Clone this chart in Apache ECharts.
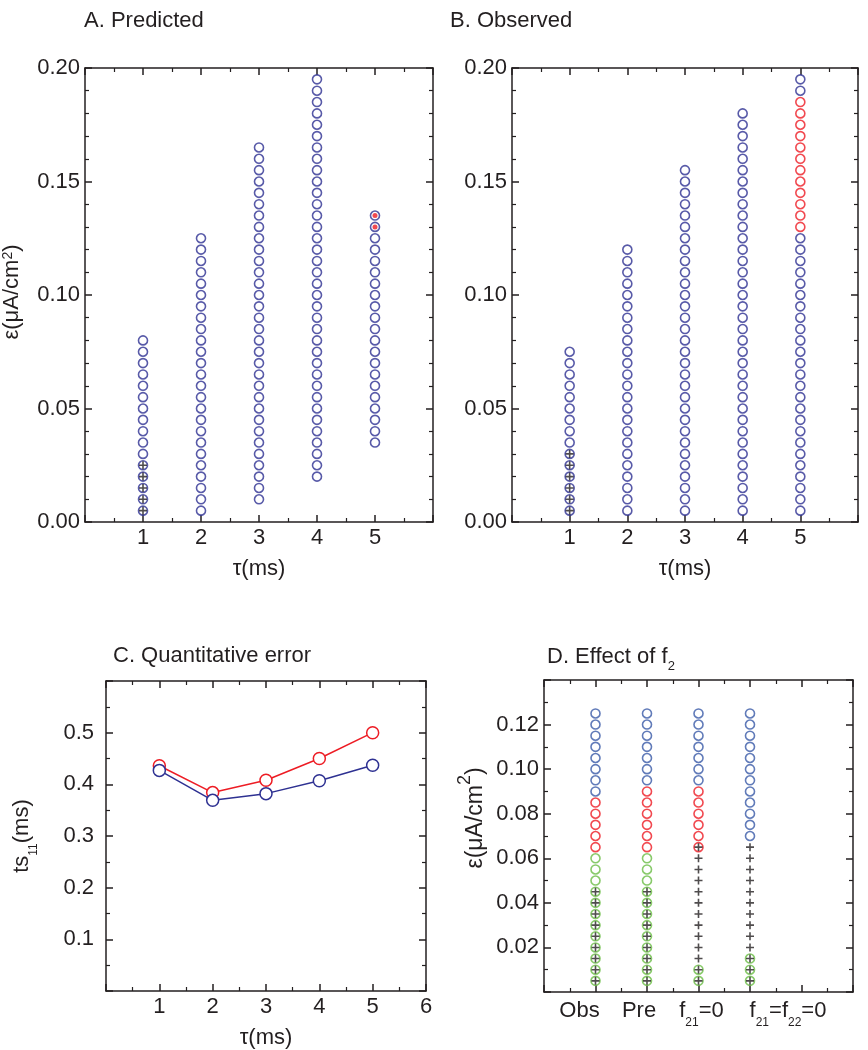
<!DOCTYPE html>
<html>
<head>
<meta charset="utf-8">
<script src="https://cdn.jsdelivr.net/npm/echarts@6/dist/echarts.min.js"></script>
<style>
  html, body { margin: 0; padding: 0; background: #fff; }
  #chart { width: 868px; height: 1050px; }
</style>
</head>
<body>
<div id="chart"></div>
<script>
// stimulus amplitudes that were tested (uA/cm2)
var epsGrid = [0.005, 0.010, 0.015, 0.020, 0.025, 0.030, 0.035, 0.040, 0.045, 0.050,
  0.055, 0.060, 0.065, 0.070, 0.075, 0.080, 0.085, 0.090, 0.095, 0.100,
  0.105, 0.110, 0.115, 0.120, 0.125, 0.130, 0.135, 0.140, 0.145, 0.150,
  0.155, 0.160, 0.165, 0.170, 0.175, 0.180, 0.185, 0.190, 0.195, 0.200];
var tauList = [1, 2, 3, 4, 5];
var tauXLabels = ['', '1', '2', '3', '4', '5', ''];
var epsYLabels = ['0.00', '0.05', '0.10', '0.15', '0.20'];

// A. predicted
var predLow = [0.005, 0.005, 0.010, 0.020, 0.035];
var predHigh = [0.080, 0.125, 0.165, 0.195, 0.135];
var predCross = [[1, 0.005], [1, 0.010], [1, 0.015], [1, 0.020], [1, 0.025]];
var predDot = [[5, 0.130], [5, 0.135]];

// B. observed
var obsLow = [0.005, 0.005, 0.005, 0.005, 0.005];
var obsHigh = [0.075, 0.120, 0.155, 0.180, 0.195];
var obsCross = [[1, 0.005], [1, 0.010], [1, 0.015], [1, 0.020], [1, 0.025], [1, 0.030]];
var obsRedTau = 5;
var obsRedRange = [0.130, 0.185];

// C. quantitative error
var tsTau = [1, 2, 3, 4, 5];
var tsRed = [0.436, 0.384, 0.408, 0.450, 0.500];
var tsBlue = [0.427, 0.369, 0.382, 0.407, 0.437];
var tsXLabels = ['', '1', '2', '3', '4', '5', '6'];
var tsYLabels = ['', '0.1', '0.2', '0.3', '0.4', '0.5', ''];

// D. effect of f2 (ranges of eps per column, null = none)
var fCats = ['Obs', 'Pre', 'f21=0', 'f21=f22=0'];
var fBlue = [[0.090, 0.125], [0.095, 0.125], [0.095, 0.125], [0.070, 0.125]];
var fRed = [[0.065, 0.085], [0.065, 0.090], [0.065, 0.090], null];
var fGreen = [[0.005, 0.060], [0.005, 0.060], [0.005, 0.010], [0.005, 0.015]];
var fCross = [[0.005, 0.045], [0.005, 0.045], [0.005, 0.065], [0.005, 0.065]];
var fYLabels = ['', '0.02', '0.04', '0.06', '0.08', '0.10', '0.12', ''];

var ink = '#231f20';
var blue = '#2e3192';
var blueD = '#3a5aa8';
var red = '#ed1c24';
var green = '#6abd45';
var font = 'Liberation Sans, Arial, sans-serif';
var plus = 'path://M4,0h2v4h4v2h-4v4h-2v-4h-4v-2h4z';
// the category labels in D are not centred on their columns
var dLabelShift = [-16, -8, 3, 38];

function column(x, lo, hi) {
  return epsGrid.filter(function (e) {
    return e >= lo - 1e-9 && e <= hi + 1e-9;
  }).map(function (e) { return [x, e]; });
}

function axis(o) {
  return Object.assign({
    type: 'value',
    gridIndex: o.g,
    position: o.pos,
    min: o.min,
    max: o.max,
    interval: o.interval,
    axisLine: { show: true, onZero: false, lineStyle: { color: ink, width: 1.5 } },
    axisTick: { show: true, inside: true, length: 7, lineStyle: { color: ink, width: 1.5 } },
    minorTick: { show: true, splitNumber: o.minor, length: 4, lineStyle: { color: ink, width: 1.2 } },
    splitLine: { show: false },
    axisLabel: {
      show: !!o.fmt, formatter: o.fmt, color: ink, fontSize: 22,
      fontFamily: font, margin: o.margin || 5, rich: o.rich
    }
  }, o.extra || {});
}

function idxFmt(labels, step) {
  return function (v) { return labels[Math.round(v / step)] || ''; };
}

// 'f21=0' -> rich text with subscripts
function subRich(s) {
  var out = '';
  s.split(/(f\d\d)/).forEach(function (part) {
    if (!part) return;
    var m = part.match(/^f(\d\d)$/);
    out += m ? '{a|f}{sub|' + m[1] + '}' : '{a|' + part + '}';
  });
  return out;
}

var dRich = {
  a: { fontSize: 22, fontFamily: font, color: ink, lineHeight: 22, verticalAlign: 'top' },
  sub: { fontSize: 12, fontFamily: font, color: ink, lineHeight: 29, verticalAlign: 'bottom' }
};
dLabelShift.forEach(function (s, i) {
  dRich['p' + i] = { width: Math.abs(s) * 2, lineHeight: 22 };
});

function dLabel(v) {
  var i = Math.round(v) - 1;
  if (!fCats[i]) return '';
  var pad = '{p' + i + '|\u00a0}';
  var txt = subRich(fCats[i]);
  return dLabelShift[i] > 0 ? pad + txt : txt + pad;
}

var nameStyle = { color: ink, fontSize: 22, fontFamily: font };
var tauName = { name: 'τ(ms)', nameLocation: 'middle', nameGap: 36, nameTextStyle: nameStyle };

var xAxes = [
  axis({ g: 0, pos: 'bottom', min: 0, max: 6, interval: 1, minor: 2, fmt: idxFmt(tauXLabels, 1), extra: tauName }),
  axis({ g: 0, pos: 'top', min: 0, max: 6, interval: 1, minor: 2 }),
  axis({ g: 1, pos: 'bottom', min: 0, max: 6, interval: 1, minor: 2, fmt: idxFmt(tauXLabels, 1), extra: tauName }),
  axis({ g: 1, pos: 'top', min: 0, max: 6, interval: 1, minor: 2 }),
  axis({ g: 2, pos: 'bottom', min: 0, max: 6, interval: 1, minor: 2, fmt: idxFmt(tsXLabels, 1), extra: tauName }),
  axis({ g: 2, pos: 'top', min: 0, max: 6, interval: 1, minor: 2 }),
  axis({ g: 3, pos: 'bottom', min: 0, max: 6, interval: 1, minor: 2, fmt: dLabel, rich: dRich, margin: 8 }),
  axis({ g: 3, pos: 'top', min: 0, max: 6, interval: 1, minor: 2 })
];

// rotated eps label; the leading spacer lifts the text along the axis,
// raise > 0 gives a taller line so the superscript sits higher
function epsName(supSize, fontSize, lift, raise) {
  var lh = raise ? fontSize + raise : undefined;
  return {
    name: '{s|\u00a0}{a|ε(μA/cm}{sup|2}{a|)}',
    nameLocation: 'middle', nameRotate: 90,
    nameTextStyle: {
      color: ink, fontSize: fontSize, fontFamily: font,
      rich: {
        s: { width: lift * 2, fontSize: fontSize, lineHeight: lh, verticalAlign: 'bottom' },
        a: { fontSize: fontSize, fontFamily: font, color: ink, lineHeight: lh, verticalAlign: 'bottom' },
        sup: { fontSize: supSize, fontFamily: font, color: ink, lineHeight: raise ? supSize : undefined, verticalAlign: 'top' }
      }
    }
  };
}

var yAxes = [
  axis({ g: 0, pos: 'left', min: 0, max: 0.2, interval: 0.05, minor: 5, fmt: idxFmt(epsYLabels, 0.05),
    extra: Object.assign({ nameGap: 62 }, epsName(14, 22, 3, 0)) }),
  axis({ g: 0, pos: 'right', min: 0, max: 0.2, interval: 0.05, minor: 5 }),
  axis({ g: 1, pos: 'left', min: 0, max: 0.2, interval: 0.05, minor: 5, fmt: idxFmt(epsYLabels, 0.05) }),
  axis({ g: 1, pos: 'right', min: 0, max: 0.2, interval: 0.05, minor: 5 }),
  axis({ g: 2, pos: 'left', min: 0, max: 0.6, interval: 0.1, minor: 2, fmt: idxFmt(tsYLabels, 0.1), margin: 12,
    extra: {
      name: '{a|ts}{sub|11}{a|(ms)}', nameLocation: 'middle', nameRotate: 90, nameGap: 66,
      nameTextStyle: {
        color: ink, fontSize: 22, fontFamily: font,
        rich: {
          a: { fontSize: 22, fontFamily: font, color: ink, lineHeight: 22, verticalAlign: 'top' },
          sub: { fontSize: 12, fontFamily: font, color: ink, lineHeight: 29, verticalAlign: 'bottom' }
        }
      }
    } }),
  axis({ g: 2, pos: 'right', min: 0, max: 0.6, interval: 0.1, minor: 2 }),
  axis({ g: 3, pos: 'left', min: 0, max: 0.14, interval: 0.02, minor: 2, fmt: idxFmt(fYLabels, 0.02),
    extra: Object.assign({ nameGap: 57 }, epsName(18, 23, 18, 8)) }),
  axis({ g: 3, pos: 'right', min: 0, max: 0.14, interval: 0.02, minor: 2 })
];

function rings(xi, yi, data, color) {
  return {
    type: 'scatter', xAxisIndex: xi, yAxisIndex: yi, data: data,
    symbol: 'circle', symbolSize: 9, z: 2, silent: true,
    itemStyle: { color: '#fff', borderColor: color, borderWidth: 1.6 }
  };
}
function crosses(xi, yi, data) {
  return {
    type: 'scatter', xAxisIndex: xi, yAxisIndex: yi, data: data,
    symbol: plus, symbolSize: 8, z: 5, silent: true,
    itemStyle: { color: ink }
  };
}

var series = [];

// A
var predPts = [];
tauList.forEach(function (t, i) { predPts = predPts.concat(column(t, predLow[i], predHigh[i])); });
series.push(rings(0, 0, predPts, blue));
series.push(crosses(0, 0, predCross));
series.push({
  type: 'scatter', xAxisIndex: 0, yAxisIndex: 0, data: predDot,
  symbol: 'circle', symbolSize: 5, z: 5, silent: true, itemStyle: { color: red }
});

// B
var obsBluePts = [], obsRedPts = [];
tauList.forEach(function (t, i) {
  column(t, obsLow[i], obsHigh[i]).forEach(function (p) {
    if (t === obsRedTau && p[1] >= obsRedRange[0] - 1e-9 && p[1] <= obsRedRange[1] + 1e-9) obsRedPts.push(p);
    else obsBluePts.push(p);
  });
});
series.push(rings(2, 2, obsBluePts, blue));
series.push(rings(2, 2, obsRedPts, red));
series.push(crosses(2, 2, obsCross));

// C
[[tsRed, red], [tsBlue, blue]].forEach(function (s) {
  series.push({
    type: 'line', xAxisIndex: 4, yAxisIndex: 4,
    data: tsTau.map(function (t, i) { return [t, s[0][i]]; }),
    symbol: 'circle', symbolSize: 12, showSymbol: true, silent: true,
    lineStyle: { color: s[1], width: 1.5 },
    itemStyle: { color: '#fff', borderColor: s[1], borderWidth: 1.5 }
  });
});

// D
var dBlue = [], dRed = [], dGreen = [], dCross = [];
fCats.forEach(function (c, i) {
  var x = i + 1;
  if (fBlue[i]) dBlue = dBlue.concat(column(x, fBlue[i][0], fBlue[i][1]));
  if (fRed[i]) dRed = dRed.concat(column(x, fRed[i][0], fRed[i][1]));
  if (fGreen[i]) dGreen = dGreen.concat(column(x, fGreen[i][0], fGreen[i][1]));
  if (fCross[i]) dCross = dCross.concat(column(x, fCross[i][0], fCross[i][1]));
});
series.push(rings(6, 6, dBlue, blueD));
series.push(rings(6, 6, dRed, red));
series.push(rings(6, 6, dGreen, green));
series.push(crosses(6, 6, dCross));

var titleStyle = { color: ink, fontSize: 22, fontWeight: 'normal', fontFamily: font };

var chart = echarts.init(document.getElementById('chart'));
chart.setOption({
  animation: false,
  backgroundColor: '#fff',
  title: [
    { text: 'A. Predicted', left: 84, top: 10, padding: 0, textStyle: titleStyle },
    { text: 'B. Observed', left: 450, top: 10, padding: 0, textStyle: titleStyle },
    { text: 'C. Quantitative error', left: 113, top: 645, padding: 0, textStyle: titleStyle },
    {
      text: 'D. Effect of f{sub|2}', left: 547, top: 641, padding: 0,
      textStyle: Object.assign({}, titleStyle, {
        rich: {
          sub: { fontSize: 13, fontFamily: font, color: ink, verticalAlign: 'bottom', lineHeight: 32 }
        }
      })
    }
  ],
  grid: [
    { left: 85, top: 68, width: 348, height: 454, outerBoundsMode: 'none' },
    { left: 512, top: 68, width: 346, height: 454, outerBoundsMode: 'none' },
    { left: 106, top: 681, width: 320, height: 310, outerBoundsMode: 'none' },
    { left: 544, top: 680, width: 309, height: 312, outerBoundsMode: 'none' }
  ],
  xAxis: xAxes,
  yAxis: yAxes,
  series: series
});
</script>
</body>
</html>
